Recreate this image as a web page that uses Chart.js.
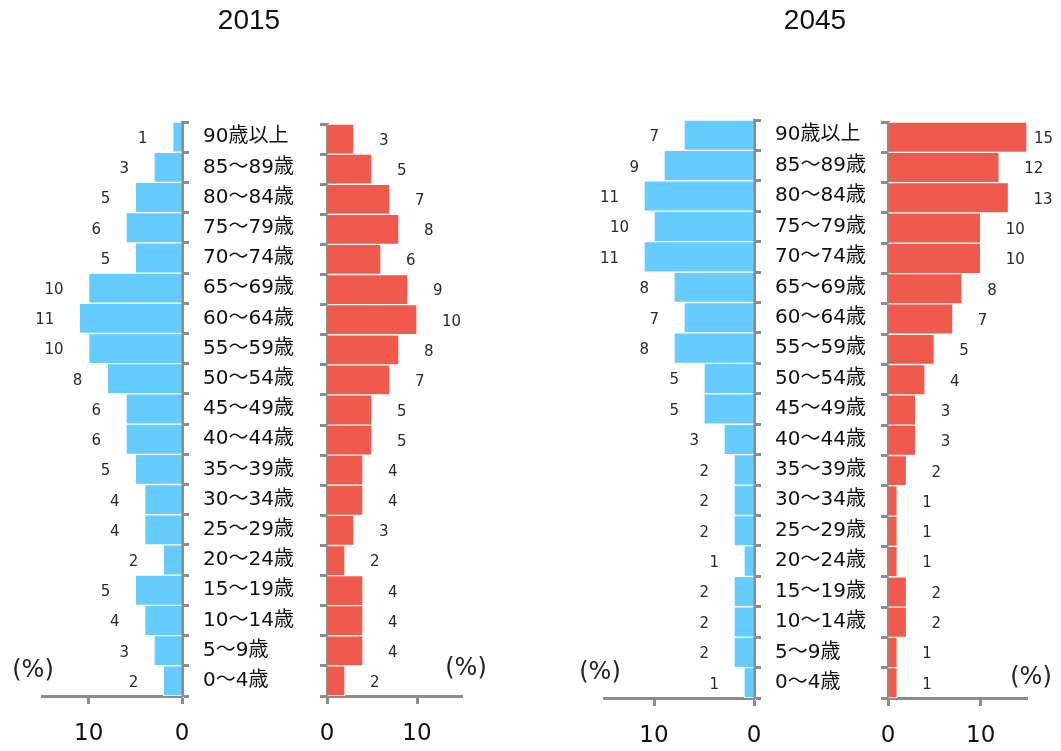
<!DOCTYPE html>
<html>
<head>
<meta charset="utf-8">
<script src="https://cdn.jsdelivr.net/npm/chart.js@4.4.1/dist/chart.umd.min.js"></script>
<style>
  body { margin: 0; background: #fff; }
  #wrap { position: relative; width: 1061px; height: 751px; overflow: hidden; background: #fff; }
  #wrap canvas { position: absolute; top: 0; }
  .txt { position: absolute; transform: translate(-50%, -50%); white-space: nowrap; color: #111; }
  .year { font: 28px "Liberation Sans", Arial, sans-serif; }
  .unit { font: 24px "DejaVu Sans", "Noto Sans CJK JP", sans-serif; color: #222; }
</style>
</head>
<body>
<div id="wrap">
  <canvas id="male2015" width="310" height="751" style="left:0px"></canvas>
  <canvas id="female2015" width="180" height="751" style="left:300px"></canvas>
  <canvas id="male2045" width="320" height="751" style="left:560px"></canvas>
  <canvas id="female2045" width="201" height="751" style="left:860px"></canvas>

  <div class="txt year" style="left:249px; top:20px">2015</div>
  <div class="txt year" style="left:815px; top:20px">2045</div>
  <div class="txt unit" style="left:33px; top:669px">(%)</div>
  <div class="txt unit" style="left:466px; top:667px">(%)</div>
  <div class="txt unit" style="left:600px; top:671px">(%)</div>
  <div class="txt unit" style="left:1031px; top:676px">(%)</div>
</div>

<script>
// Age groups, oldest at the top
const ageGroups = [
  '90歳以上', '85～89歳', '80～84歳', '75～79歳', '70～74歳',
  '65～69歳', '60～64歳', '55～59歳', '50～54歳', '45～49歳',
  '40～44歳', '35～39歳', '30～34歳', '25～29歳', '20～24歳',
  '15～19歳', '10～14歳', '5～9歳', '0～4歳'
];

// Share of each age group (%), same order as ageGroups
const male2015   = [1, 3, 5, 6, 5, 10, 11, 10, 8, 6, 6, 5, 4, 4, 2, 5, 4, 3, 2];
const female2015 = [3, 5, 7, 8, 6, 9, 10, 8, 7, 5, 5, 4, 4, 3, 2, 4, 4, 4, 2];
const male2045   = [7, 9, 11, 10, 11, 8, 7, 8, 5, 5, 3, 2, 2, 2, 1, 2, 2, 2, 1];
const female2045 = [15, 12, 13, 10, 10, 8, 7, 5, 4, 3, 3, 2, 1, 1, 1, 2, 2, 1, 1];

// Percentage axis
const axisMax = 15;
const axisStep = 10;

const MALE_COLOR = '#66CCFF';
const FEMALE_COLOR = '#EF5A4C';
const AXIS_COLOR = '#8C8C8C';
const BASE_FONT = '"DejaVu Sans", "Noto Sans CJK JP", sans-serif';

// Writes each bar's value just beyond its end
const valueLabels = {
  id: 'valueLabels',
  afterDatasetsDraw(chart, args, opts) {
    const { ctx } = chart;
    const meta = chart.getDatasetMeta(0);
    const values = chart.data.datasets[0].data;
    ctx.save();
    ctx.font = '15px ' + BASE_FONT;
    ctx.fillStyle = '#2a2a2a';
    ctx.textBaseline = 'middle';
    ctx.textAlign = 'left';
    meta.data.forEach((bar, i) => {
      const text = String(values[i]);
      const w = ctx.measureText(text).width;
      let x;
      if (opts.side === 'left') {
        x = bar.x - opts.gap - w;
      } else {
        x = Math.min(bar.x + opts.gap, chart.width - opts.edge - w);
      }
      ctx.fillText(text, x, bar.y + 2);
    });
    ctx.restore();
  }
};

// One half of a pyramid. area = plot rectangle inside the canvas.
function pyramidSide(canvasId, values, side, area, color) {
  const canvas = document.getElementById(canvasId);
  const W = canvas.width, H = canvas.height;
  const isLeft = side === 'left';

  return new Chart(canvas, {
    type: 'bar',
    data: {
      labels: ageGroups,
      datasets: [{
        data: values,
        backgroundColor: color,
        borderColor: '#ffffff',
        borderWidth: 1,
        barPercentage: 1,
        categoryPercentage: 1
      }]
    },
    options: {
      indexAxis: 'y',
      responsive: false,
      animation: false,
      events: [],
      layout: {
        autoPadding: false,
        padding: {
          left: isLeft ? area.left : 0,
          right: isLeft ? 0 : W - area.right,
          top: area.top,
          bottom: 0
        }
      },
      plugins: {
        legend: { display: false },
        tooltip: { enabled: false },
        title: { display: false },
        valueLabels: { side: side, gap: 25, edge: 8 }
      },
      scales: {
        x: {
          type: 'linear',
          min: 0,
          max: axisMax,
          reverse: isLeft,
          afterFit(scale) { scale.height = H - area.bottom; },
          ticks: {
            stepSize: axisStep,
            includeBounds: false,
            padding: 16,
            color: '#111',
            font: { family: BASE_FONT, size: 23 }
          },
          grid: {
            drawOnChartArea: false,
            drawTicks: true,
            tickLength: 8,
            tickWidth: 3,
            tickColor: AXIS_COLOR
          },
          border: { display: true, color: AXIS_COLOR, width: 3 }
        },
        y: {
          position: isLeft ? 'right' : 'left',
          z: 1,
          afterFit(scale) { scale.width = isLeft ? W - area.right : area.left; },
          ticks: {
            display: isLeft,
            padding: 14,
            color: '#111',
            font: { family: BASE_FONT, size: 20 }
          },
          grid: {
            offset: true,
            drawOnChartArea: false,
            drawTicks: true,
            tickLength: 7,
            tickWidth: 3,
            tickColor: AXIS_COLOR
          },
          border: { display: true, color: AXIS_COLOR, width: 3 }
        }
      }
    },
    plugins: [valueLabels]
  });
}

pyramidSide('male2015',   male2015,   'left',  { left: 42, right: 182, top: 122, bottom: 696 }, MALE_COLOR);
pyramidSide('female2015', female2015, 'right', { left: 27, right: 162, top: 124, bottom: 696 }, FEMALE_COLOR);
pyramidSide('male2045',   male2045,   'left',  { left: 44, right: 194, top: 120, bottom: 698 }, MALE_COLOR);
pyramidSide('female2045', female2045, 'right', { left: 28, right: 167, top: 122, bottom: 698 }, FEMALE_COLOR);
</script>
</body>
</html>
